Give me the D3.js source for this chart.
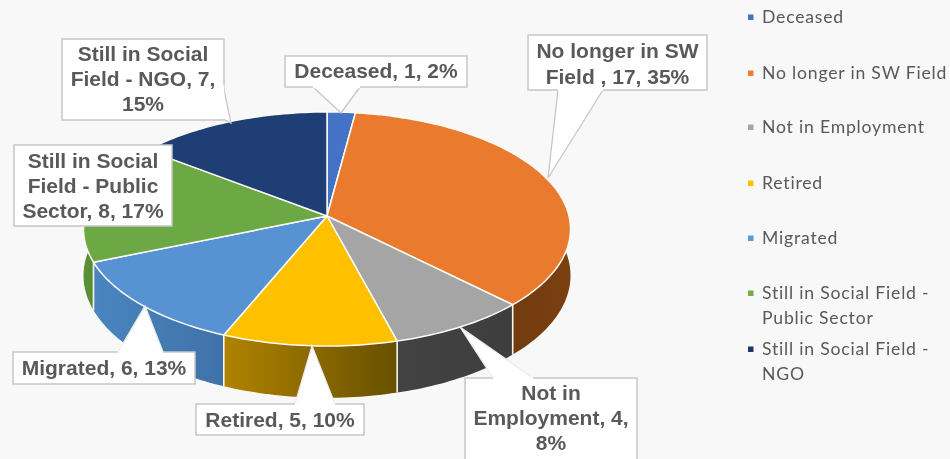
<!DOCTYPE html>
<html><head><meta charset="utf-8">
<script src="https://cdn.jsdelivr.net/npm/d3@7/dist/d3.min.js"></script>
<style>html,body{margin:0;padding:0;background:#f8f8f8}svg{display:block}</style>
</head><body><div id="chart"></div>
<script>
const categories = ["Deceased","No longer in SW Field","Not in Employment","Retired","Migrated","Still in Social Field - Public Sector","Still in Social Field - NGO"];
const values = [1,17,4,5,6,8,7];
const topColors = ["#4472c4","#ea7b2e","#a5a5a5","#ffc000","#5793d3","#6ca843","#1f3e76"];
const legendColors = ["#4472c4","#ed7d31","#a5a5a5","#ffc000","#5b9bd5","#70ad47","#1f3864"];
const sideStart = ["#2f5597","#5c300c","#424242","#b08300","#4a85c0","#5a9038","#16305c"];
const sideEnd = ["#2f5597","#7a4010","#3e3e3e","#675000","#3f72a8","#4a7a2c","#16305c"];
const legendLines = [["Deceased"],["No longer in SW Field"],["Not in Employment"],["Retired"],["Migrated"],["Still in Social Field -","Public Sector"],["Still in Social Field -","NGO"]];
const labelLines = [["Deceased, 1, 2%"],["No longer in SW","Field , 17, 35%"],["Not in","Employment, 4,","8%"],["Retired, 5, 10%"],["Migrated, 6, 13%"],["Still in Social","Field - Public","Sector, 8, 17%"],["Still in Social","Field - NGO, 7,","15%"]];

const W=950,H=459;
const svg=d3.select("#chart").append("svg").attr("width",W).attr("height",H);
svg.append("rect").attr("width",W).attr("height",H).attr("fill","#f8f8f8");
const root=svg.append("g").style("filter","blur(0.45px)");

// perspective projection of the pie disc
const cx=327,cy=216,bx=242,by=115.6,k=0.111,depth=46;
const proj=(a,drop)=>{const X=Math.sin(a),Y=-Math.cos(a),d=1-k*Y;
  return [cx+bx*X/d, cy+by*Y/d+(drop?depth/d:0)];};
const pie=d3.pie().sort(null).startAngle(0).endAngle(2*Math.PI)(values);
const line=d3.line();
const rim=(s,e,drop)=>{const n=Math.max(2,Math.ceil((e-s)/0.02));
  return d3.range(n+1).map(i=>proj(s+(e-s)*i/n,drop));};

const defs=svg.append("defs");
pie.forEach((p,i)=>{const g=defs.append("linearGradient").attr("id","side"+i);
  g.append("stop").attr("offset",0).attr("stop-color",sideStart[i]);
  g.append("stop").attr("offset",1).attr("stop-color",sideEnd[i]);});

const order=d3.range(pie.length);
root.append("g").selectAll("path").data(order).join("path")
  .attr("d",i=>{const p=pie[i];return line(rim(p.startAngle,p.endAngle,false).concat(rim(p.startAngle,p.endAngle,true).reverse()))+"Z";})
  .attr("fill",i=>`url(#side${i})`);
// wall separators at slice boundaries
root.append("g").selectAll("path").data(order).join("path")
  .attr("d",i=>line([proj(pie[i].startAngle,false),proj(pie[i].startAngle,true)]))
  .attr("stroke","#fbf6e8").attr("stroke-width",1.6);
root.append("g").selectAll("path").data(order).join("path")
  .attr("d",i=>{const p=pie[i];return line([[cx,cy]].concat(rim(p.startAngle,p.endAngle,false)))+"Z";})
  .attr("fill",i=>topColors[i]).attr("stroke","#fdfbf5").attr("stroke-width",1.5).attr("stroke-linejoin","round");

// callouts: box [x,y,w,h], pointer polygon joined to the box edge
const boxes=[
 {b:[285,56,182,31],ptr:[[313,87],[341,113],[360,87]],ps:"#c6c6c6",base:77.5},
 {b:[528,35,179,55],ptr:[[558,90],[548,178],[603,90]],ps:"#c6c6c6",base:58},
 {b:[465,378,172,85],ptr:[[493,378],[460,327],[533,378]],ps:"#ececec",base:400},
 {b:[196,404,168,31],ptr:[[295,404],[312,346],[335,404]],ps:"#ececec",base:427},
 {b:[13,352,182,32],ptr:[[118,352],[145,306],[163,352]],ps:"#ececec",base:375},
 {b:[14,145,158,81],ptr:null,base:168},
 {b:[62,39,162,81],ptr:[[223,85],[231,123],[223,119]],ps:"#c6c6c6",base:61}
];
const callouts=root.append("g");
boxes.forEach((c,i)=>{
  const [x,y,w,h]=c.b;const g=callouts.append("g");
  g.append("rect").attr("x",x).attr("y",y).attr("width",w).attr("height",h).attr("fill","#fff").attr("stroke","#c6c6c6").attr("stroke-width",1.5);
  if(c.ptr){
    g.append("path").attr("d",line(c.ptr)).attr("fill","#fff").attr("stroke",c.ps).attr("stroke-width",1.3);
    g.append("path").attr("d",line([c.ptr[0],c.ptr[2]])).attr("stroke","#fff").attr("stroke-width",2.6);
  }
  labelLines[i].forEach((t,j)=>g.append("text").attr("x",x+w/2).attr("y",c.base+j*(i===1?26:24.8))
    .attr("text-anchor","middle").attr("font-family","'Liberation Sans',Arial,sans-serif")
    .attr("font-weight","700").attr("font-size",21).attr("fill","#595959").text(t));
});

// legend
const legendY=[17,73,127,183,238,293,349];
const legend=root.append("g");
categories.forEach((c,i)=>{
  legend.append("rect").attr("x",748).attr("y",legendY[i]-2.5).attr("width",5.5).attr("height",5.5).attr("fill",legendColors[i]);
  legendLines[i].forEach((t,j)=>legend.append("text").attr("x",762).attr("y",legendY[i]+6+j*25)
    .attr("font-family","Lato,'Open Sans',sans-serif").attr("font-size",17.6).attr("letter-spacing",0.8)
    .attr("fill","#595959").text(t));
});
</script></body></html>
